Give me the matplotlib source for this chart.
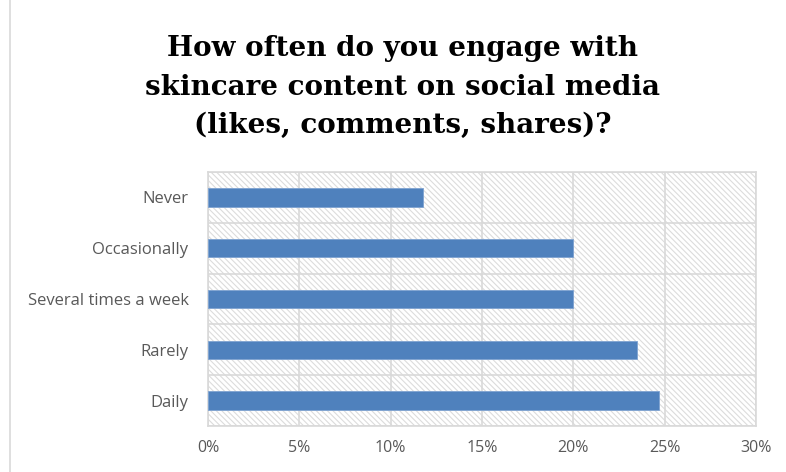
import matplotlib.pyplot as plt
import matplotlib.lines as mlines
import numpy as np

categories = ["Daily", "Rarely", "Several times a week", "Occasionally", "Never"]
values = [24.7, 23.5, 20.0, 20.0, 11.8]
xticks = [0, 5, 10, 15, 20, 25, 30]

plt.rcParams["hatch.linewidth"] = 0.8

fig = plt.figure(figsize=(7.86, 4.72), dpi=100)
ax = fig.add_axes([0.2646, 0.0975, 0.697, 0.538])

# hatched plot background
ax.patch.set_facecolor("white")
ax.patch.set_hatch("\\" * 6)
ax.patch.set_edgecolor("#dcdcdc")

y = np.arange(len(categories))
ax.barh(y, values, height=0.36, color="#4F81BD", edgecolor="#7fa3d1", linewidth=0.6, zorder=3)

ax.set_xlim(0, 30)
ax.set_ylim(-0.5, len(categories) - 0.5)
ax.set_xticks(xticks)
ax.set_xticklabels(["{}%".format(t) for t in xticks])
ax.set_yticks(y)
ax.set_yticklabels(categories)
ax.set_yticks(np.arange(-0.5, len(categories), 1), minor=True)

ax.grid(axis="x", which="major", color="#d9d9d9", linewidth=1.2, zorder=1)
ax.grid(axis="y", which="minor", color="#d9d9d9", linewidth=1.2, zorder=1)
ax.tick_params(axis="both", which="both", length=0, labelcolor="#595959")
ax.tick_params(axis="x", pad=10, labelsize=11.5)
ax.tick_params(axis="y", pad=14, labelsize=12)
for lbl in ax.get_xticklabels() + ax.get_yticklabels():
    lbl.set_family("Open Sans")
for s in ax.spines.values():
    s.set_color("#d9d9d9")
    s.set_linewidth(1.2)

fig.text(403 / 786, 1 - 35 / 472, "How often do you engage with\nskincare content on social media\n(likes, comments, shares)?",
         ha="center", va="top", fontsize=20, fontweight="bold", family="DejaVu Serif",
         linespacing=1.55, color="black")

fig.add_artist(mlines.Line2D([0.013, 0.013], [0, 1], color="#d9d9d9", linewidth=1.2))

fig.savefig("out.png", dpi=100)
